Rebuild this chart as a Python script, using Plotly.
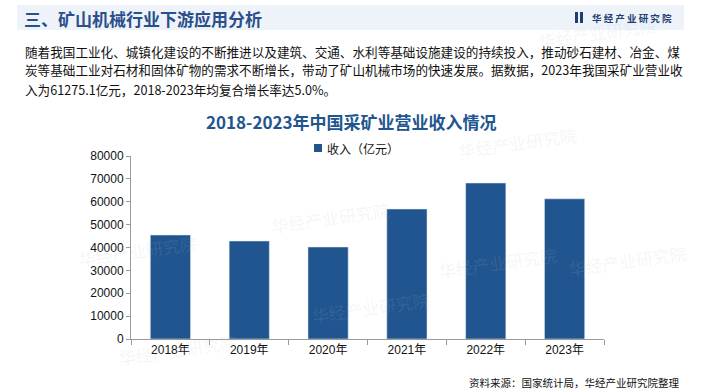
import plotly.graph_objects as go

# ---- data ----
years = ["2018年", "2019年", "2020年", "2021年", "2022年", "2023年"]
revenue = [45464, 42841, 40219, 56831, 68197, 61275.1]
series_name = "收入（亿元）"
chart_title = "2018-2023年中国采矿业营业收入情况"
header_title = "三、矿山机械行业下游应用分析"
logo_text = "华 经 产 业 研 究 院"
body_lines = [
    "随着我国工业化、城镇化建设的不断推进以及建筑、交通、水利等基础设施建设的持续投入，推动砂石建材、冶金、煤",
    "炭等基础工业对石材和固体矿物的需求不断增长，带动了矿山机械市场的快速发展。据数据，2023年我国采矿业营业收",
    "入为61275.1亿元，2018-2023年均复合增长率达5.0%。",
]
source_text = "资料来源：国家统计局，华经产业研究院整理"
watermark = "华经产业研究院"

W, H = 704, 392
L, R, T, B = 131, 100, 156, 53
PW, PH = W - L - R, H - T - B

def px(x):
    return (x - L) / PW

def py(y):
    return (H - B - y) / PH

BLUE = "#21558f"
DARK = "#2a4f8a"
CJK = "Noto Sans CJK SC, Microsoft YaHei, sans-serif"
NUM = "Liberation Sans, Arial, Noto Sans CJK SC, sans-serif"

fig = go.Figure()
fig.add_trace(go.Bar(
    x=years, y=revenue, name=series_name, marker_color=BLUE,
    showlegend=False,
))

annotations = []
shapes = []

# watermarks (faint)
for (wx, wy) in [(330, 195), (75, 250), (580, 120), (370, 330), (560, 285), (115, 372), (660, 10), (690, 260)]:
    annotations.append(dict(
        x=px(wx), y=py(wy), xref="paper", yref="paper", text=watermark,
        showarrow=False, textangle=-8,
        font=dict(family=CJK, size=17, color="rgba(170,185,210,0.14)"),
    ))

# header band
shapes.append(dict(type="rect", xref="paper", yref="paper",
                   x0=px(17), x1=px(684), y0=py(30), y1=py(5),
                   fillcolor="#eef3fa", line=dict(width=0), layer="below"))
annotations.append(dict(x=px(22), y=py(18), xref="paper", yref="paper",
                        text="<b>" + header_title + "</b>", showarrow=False,
                        xanchor="left", yanchor="middle",
                        font=dict(family=CJK, size=17, color=DARK)))
# logo icon
shapes.append(dict(type="rect", xref="paper", yref="paper",
                   x0=px(575), x1=px(578), y0=py(23), y1=py(12),
                   fillcolor="#1f3f73", line=dict(width=0)))
shapes.append(dict(type="rect", xref="paper", yref="paper",
                   x0=px(580), x1=px(583), y0=py(23), y1=py(12),
                   fillcolor="#1f3f73", line=dict(width=0)))
annotations.append(dict(x=px(590), y=py(17.5), xref="paper", yref="paper",
                        text="<b>" + logo_text + "</b>", showarrow=False,
                        xanchor="left", yanchor="middle",
                        font=dict(family=CJK, size=9.5, color="#1f3f73")))

# body text
for line, ly in zip(body_lines, [51, 70, 89]):
    annotations.append(dict(x=px(23), y=py(ly), xref="paper", yref="paper",
                            text=line, showarrow=False,
                            xanchor="left", yanchor="middle",
                            font=dict(family=CJK, size=12.6, color="#111111")))

# chart title
annotations.append(dict(x=px(351), y=py(121), xref="paper", yref="paper",
                        text="<b>" + chart_title + "</b>", showarrow=False,
                        xanchor="center", yanchor="middle",
                        font=dict(family=CJK, size=17, color=BLUE)))

# legend (square + label)
shapes.append(dict(type="rect", xref="paper", yref="paper",
                   x0=px(314), x1=px(322), y0=py(152), y1=py(144),
                   fillcolor=BLUE, line=dict(width=0)))
annotations.append(dict(x=px(325), y=py(148), xref="paper", yref="paper",
                        text=series_name, showarrow=False,
                        xanchor="left", yanchor="middle",
                        font=dict(family=CJK, size=12, color="#111111")))

# source
annotations.append(dict(x=px(681), y=py(382), xref="paper", yref="paper",
                        text=source_text, showarrow=False,
                        xanchor="right", yanchor="middle",
                        font=dict(family=CJK, size=10.5, color="#111111")))

fig.update_layout(
    width=W, height=H,
    margin=dict(l=L, r=R, t=T, b=B, autoexpand=False),
    paper_bgcolor="white", plot_bgcolor="white",
    bargap=0.49,
    showlegend=False,
    hovermode=False,
    shapes=shapes, annotations=annotations,
    font=dict(family=NUM),
)
fig.update_xaxes(
    showline=True, linecolor="#9a9a9a", linewidth=1,
    ticks="outside", ticklen=5, tickcolor="#9a9a9a", tickson="boundaries",
    showgrid=False, tickfont=dict(family=NUM, size=12, color="#111111"),
)
fig.update_yaxes(
    range=[0, 80000], dtick=10000, tickformat="d",
    showline=True, linecolor="#9a9a9a", linewidth=1,
    ticks="outside", ticklen=4, tickcolor="#9a9a9a",
    showgrid=False, zeroline=False,
    tickfont=dict(family=NUM, size=12, color="#111111"),
)

fig.write_html("out.html",
               config={"displayModeBar": False},
               post_script="document.body.style.margin='0';document.body.style.overflow='hidden';")
